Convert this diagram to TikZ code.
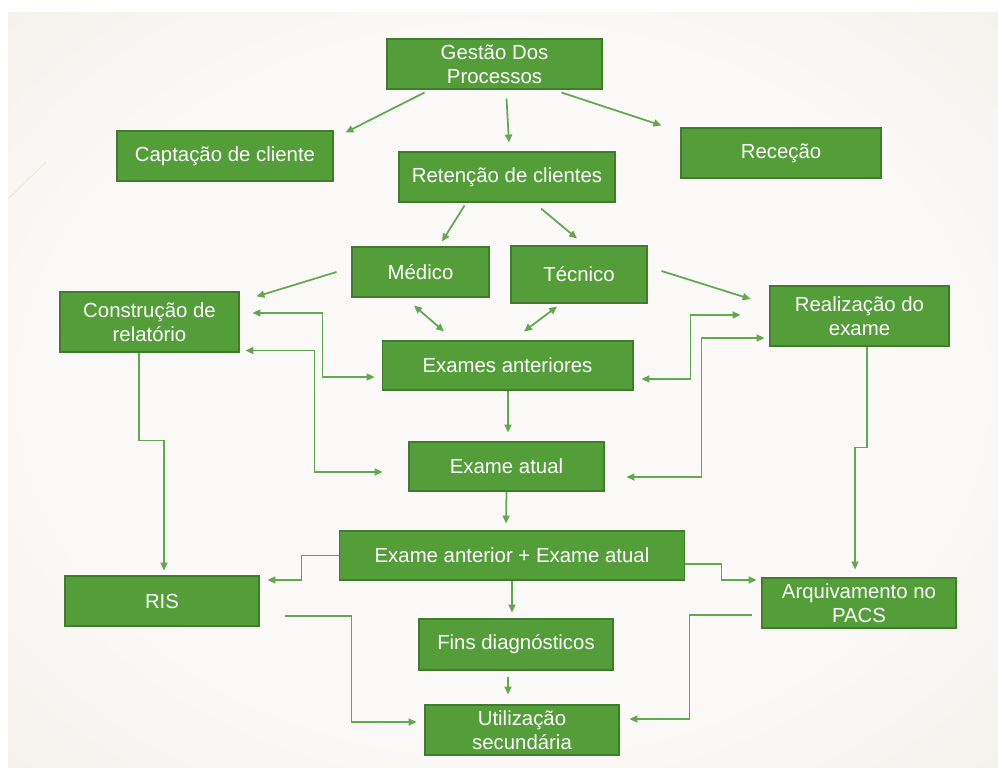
\documentclass[tikz,border=0pt]{standalone}
\usepackage{fontspec}
\setmainfont{Liberation Sans}
\usepackage{xcolor}
\usepackage{tikz}
\usetikzlibrary{arrows.meta,calc}
\definecolor{boxgreen}{HTML}{549E3A}
\definecolor{boxedge}{HTML}{3F7D2D}
\definecolor{linkgreen}{HTML}{62A84E}
\definecolor{slidein}{HTML}{FBFAF8}
\definecolor{slideout}{HTML}{E3DCCF}
\pgfdeclareradialshading{slideshade}{\pgfpoint{0bp}{0bp}}{color(0bp)=(slidein); color(22bp)=(slidein); color(72bp)=(slideout)}

\begin{document}
\begin{tikzpicture}[x=0.02cm, y=-0.02cm,
  proc/.style={draw=boxedge, line width=0.6pt, fill=boxgreen, text=white, inner sep=0pt, align=center, font=\fontsize{11.6}{13.6}\selectfont},
  link/.style={draw=linkgreen, line width=1pt, -{Triangle[length=4.5pt,width=4pt]}},
  twoway/.style={link, {Triangle[length=4.5pt,width=4pt]}-{Triangle[length=4.5pt,width=4pt]}}]
\useasboundingbox (0,0) rectangle (998,770);
\fill[white] (0,0) rectangle (998,770);
\shade[shading=slideshade] (8,13) rectangle (998,767);
\draw[color=slideout!70!white, line width=0.5pt] (8,199) -- (46,162);

\node[proc, minimum width=4.30cm, minimum height=1.00cm] (gestao) at (494.5,64) {Gestão Dos\\Processos};
\node[proc, minimum width=4.32cm, minimum height=1.00cm] (captacao) at (225,156) {Captação de cliente};
\node[proc, minimum width=4.00cm, minimum height=1.00cm] (rececao) at (781,153) {Receção};
\node[proc, minimum width=4.32cm, minimum height=1.00cm] (retencao) at (507,177) {Retenção de clientes};
\node[proc, minimum width=2.74cm, minimum height=1.00cm] (medico) at (420.5,272) {Médico};
\node[proc, minimum width=2.72cm, minimum height=1.14cm] (tecnico) at (579,274.5) {Técnico};
\node[proc, minimum width=3.58cm, minimum height=1.20cm] (construcao) at (149.5,322) {Construção de\\relatório};
\node[proc, minimum width=3.58cm, minimum height=1.20cm] (realizacao) at (859.5,316) {Realização do\\exame};
\node[proc, minimum width=5.02cm, minimum height=0.98cm] (anteriores) at (507.5,365.5) {Exames anteriores};
\node[proc, minimum width=3.90cm, minimum height=0.98cm] (atual) at (506.5,466.5) {Exame atual};
\node[proc, minimum width=6.92cm, minimum height=0.98cm] (ambos) at (512,555.5) {Exame anterior + Exame atual};
\node[proc, minimum width=3.88cm, minimum height=1.00cm] (ris) at (162,601) {RIS};
\node[proc, minimum width=3.88cm, minimum height=1.00cm] (pacs) at (859,603) {Arquivamento no\\PACS};
\node[proc, minimum width=3.88cm, minimum height=1.02cm] (fins) at (516,644.5) {Fins diagnósticos};
\node[proc, minimum width=3.88cm, minimum height=1.00cm] (utilizacao) at (522,730) {Utilização\\secundária};

\draw[link] ($(gestao.south west)+(38,3)$) -- ($(captacao.north east)+(12,2)$);
\draw[link] ($(gestao.south)+(12,9)$) -- ($(retencao.north)+(2,-9)$);
\draw[link] ($(gestao.south east)+(-41,3)$) -- ($(rececao.north west)+(-19,-2)$);
\draw[link] ($(retencao.south west)+(66,3)$) -- ($(medico.north)+(21.5,-5)$);
\draw[link] ($(retencao.south)+(34,6)$) -- ($(tecnico.north)+(-2,-7)$);
\draw[link] ($(medico.west)+(-15,0)$) -- ($(construcao.north east)+(17,5)$);
\draw[twoway] ($(medico.south)+(-6.5,8)$) -- ($(anteriores.north)+(-63.5,-9)$);
\draw[twoway] ($(tecnico.south)+(-22,3)$) -- ($(anteriores.north)+(16.5,-9)$);
\draw[link] ($(tecnico.east)+(14,-3.5)$) -- ($(realizacao.west)+(-19,-17)$);

\draw[twoway] ($(construcao.east)+(13,-9)$) -- ++(70,0) |- ($(anteriores.west)+(-7,11.5)$);
\draw[twoway] ($(construcao.south east)+(6,-2)$) -- ++(69,0) |- ($(atual.west)+(-26,5.5)$);
\draw[twoway] ($(anteriores.east)+(8,13.5)$) -- ++(49,0) |- ($(realizacao.west)+(-29,-1)$);
\draw[twoway] ($(atual.east)+(22,10.5)$) -- ++(75,0) |- ($(realizacao.west)+(-5,22)$);
\draw[link] ($(anteriores.south)+(0.5,0)$) -- ($(atual.north)+(1.5,-9)$);
\draw[link] (atual.south) -- ($(ambos.north)+(-6,-7)$);

\draw[link] ($(construcao.south)+(-10.5,0)$) -- ++(0,88) -| ($(ris.north)+(2,-5)$);
\draw[link] ($(realizacao.south)+(7.5,0)$) -- ++(0,101) -| ($(pacs.north)+(-4,-8)$);
\draw[link] (ambos.west) -- ++(-37,0) |- ($(ris.east)+(8,-21)$);
\draw[link] ($(ambos.east)+(0,8.5)$) -- ++(36,0) |- ($(pacs.west)+(-5,-23)$);
\draw[link] (ambos.south) -- ($(fins.north)+(-4,-6)$);
\draw[link] ($(fins.south)+(-8,6)$) -- ($(utilizacao.north)+(-14,-10)$);
\draw[link] ($(ris.east)+(25,15)$) -- ++(67,0) |- ($(utilizacao.west)+(-8,-8)$);
\draw[link] ($(pacs.west)+(-9,12)$) -- ++(-63,0) |- ($(utilizacao.east)+(10,-11)$);
\end{tikzpicture}
\end{document}
